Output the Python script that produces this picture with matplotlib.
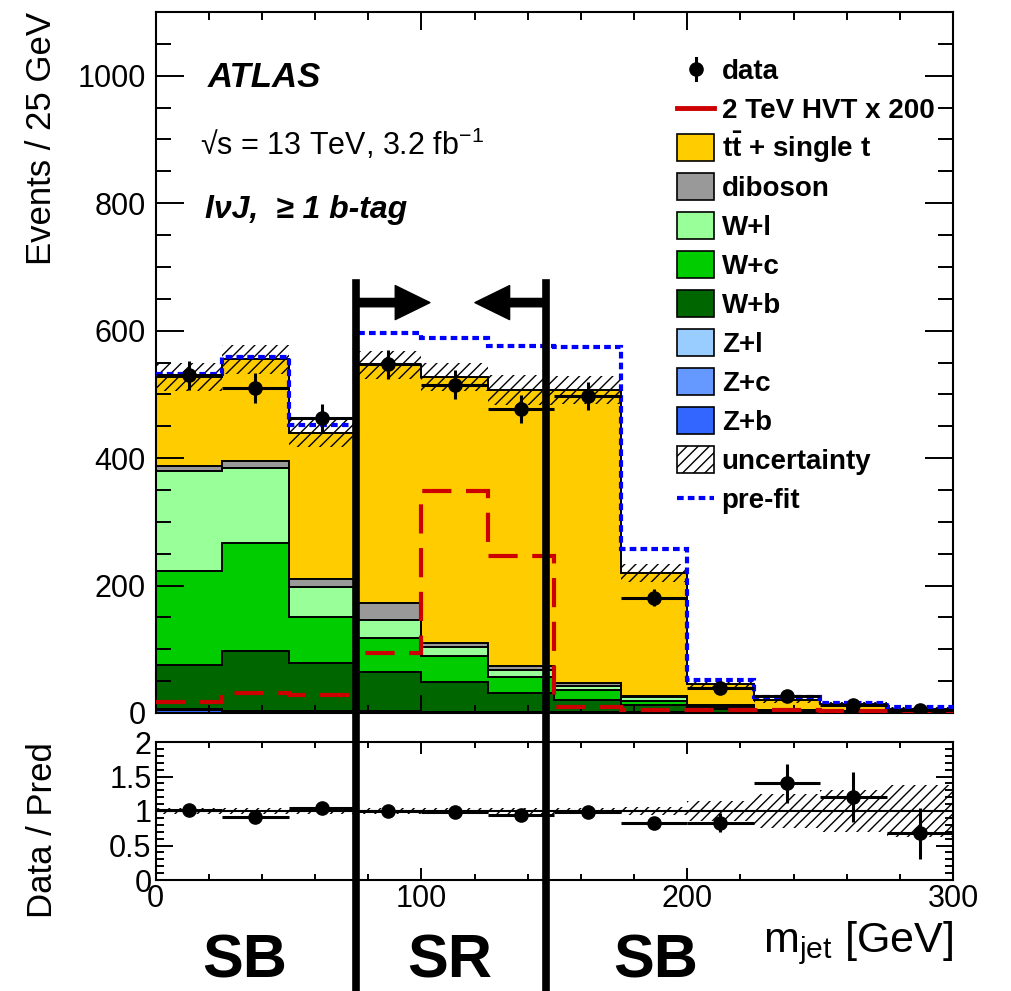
import matplotlib
matplotlib.use('Agg')
import matplotlib.pyplot as plt
import numpy as np
from matplotlib.patches import Rectangle, FancyArrowPatch
from matplotlib.lines import Line2D
import matplotlib.transforms as mtransforms
from matplotlib.ticker import MultipleLocator

plt.rcParams['font.family'] = ['Liberation Sans', 'DejaVu Sans']
plt.rcParams['mathtext.fontset'] = 'custom'
plt.rcParams['mathtext.rm'] = 'Liberation Sans'
plt.rcParams['mathtext.it'] = 'Liberation Sans:italic'
plt.rcParams['mathtext.bf'] = 'Liberation Sans:bold'
plt.rcParams['hatch.linewidth'] = 1.0

# ---------------- data ----------------
bin_edges = [0, 25, 50, 75, 100, 125, 150, 175, 200, 225, 250, 275, 300]

z_b = [5, 2, 2, 2, 1.5, 1, 0.6, 0.5, 0.3, 0.2, 0.1, 0.1]
z_c = [1, 0.5, 0.5, 0.5, 0.3, 0.3, 0.2, 0.2, 0.1, 0.1, 0.05, 0.0]
z_l = [1, 0.5, 0.5, 0.5, 0.2, 0.2, 0.2, 0.1, 0.1, 0.0, 0.05, 0.0]
w_b = [69, 95, 76, 61, 47, 29.5, 20, 11.7, 5, 2, 1, 0.5]
w_c = [147, 169, 71, 53, 40, 26, 15, 6.5, 3, 1.5, 1, 0.5]
w_l = [156, 117, 48, 29, 14, 11, 7, 5.5, 2.5, 1, 0.5, 0.3]
diboson = [9, 11, 13, 26, 7, 5, 4, 2.5, 1.5, 0.5, 0.5, 0.2]
ttbar = [139, 160, 228, 374, 418, 434, 460, 193, 33.5, 14.7, 10.8, 5.4]

bkg_unc = [21.5, 22.5, 22, 22, 22, 23, 22, 14.5, 6, 5, 3, 2]
prefit = [532, 558, 452, 596, 588, 576, 574, 257, 52, 25, 15, 9]
signal_hvt = [17, 32, 29, 94, 348, 246, 10, 5, 4, 4, 3, 3]

data = [530, 510, 463, 547, 515, 477, 497, 181, 39, 27, 13, 5]
data_err = [23, 23, 22, 23, 23, 22, 22, 13, 6, 5, 4, 2.5]

ratio = [1.01, 0.92, 1.05, 1.00, 0.98, 0.94, 0.98, 0.82, 0.83, 1.40, 1.20, 0.68]
ratio_err = [0.04, 0.04, 0.05, 0.04, 0.04, 0.04, 0.04, 0.06, 0.14, 0.28, 0.36, 0.37]
ratio_unc = [0.037, 0.037, 0.037, 0.037, 0.037, 0.037, 0.037, 0.06, 0.15, 0.24, 0.30, 0.38]

sr_edges = [75.5, 147]

stack_names = ['Z+b', 'Z+c', 'Z+l', 'W+b', 'W+c', 'W+l', 'diboson', r't$\mathbf{\bar{t}}$ + single t']
stack_vals = [z_b, z_c, z_l, w_b, w_c, w_l, diboson, ttbar]
stack_colors = ['#3366FF', '#6699FF', '#99CCFF', '#006600', '#00CC00', '#99FF99', '#999999', '#FFCC00']

# ---------------- figure ----------------
W, H = 1011, 991
fig = plt.figure(figsize=(W / 100, H / 100), dpi=100)

def fx(x):
    return x / W

def fy(y):
    return 1 - y / H

ax = fig.add_axes([fx(155.7), fy(713), fx(953) - fx(155.7), fy(12) - fy(713)])
rax = fig.add_axes([fx(155.7), fy(880), fx(953) - fx(155.7), fy(742) - fy(880)])

edges = np.array(bin_edges, dtype=float)
centers = 0.5 * (edges[:-1] + edges[1:])
halfw = 0.5 * (edges[1:] - edges[:-1])

base = np.zeros(len(centers))
for vals, col in zip(stack_vals, stack_colors):
    top = base + np.array(vals, dtype=float)
    ax.stairs(top, edges, baseline=base, fill=True, color=col, lw=0, zorder=1)
    ax.stairs(top, edges, baseline=None, color='black', lw=1.4, zorder=2)
    base = top
total = base

unc = np.array(bkg_unc)
ax.stairs(total + unc, edges, baseline=total - unc, fill=True, facecolor='none',
          edgecolor='black', hatch='///', lw=0, zorder=3)
ax.stairs(np.array(signal_hvt, float), edges, baseline=None, color='#CC0000', lw=3.0,
          linestyle=(0, (7, 3.5)), zorder=4)
ax.stairs(np.array(prefit, float), edges, baseline=None, color='#0000FF', lw=3.0,
          linestyle=(0, (1.6, 1.0)), zorder=5)
ax.errorbar(centers, data, xerr=halfw, yerr=data_err, fmt='o', color='black',
            ms=9.5, elinewidth=2.2, capsize=0, zorder=6)

ax.set_xlim(0, 300)
ax.set_ylim(0, 1100)
ax.xaxis.set_major_locator(MultipleLocator(100))
ax.xaxis.set_minor_locator(MultipleLocator(20))
ax.yaxis.set_major_locator(MultipleLocator(200))
ax.yaxis.set_minor_locator(MultipleLocator(50))
ax.tick_params(which='both', direction='in', top=True, right=True, width=1.4, labelsize=22)
ax.tick_params(axis='y', which='major', length=20, pad=7)
ax.tick_params(axis='y', which='minor', length=10.5)
ax.tick_params(axis='x', which='major', length=13)
ax.tick_params(axis='x', which='minor', length=6)
ax.tick_params(axis='x', labelbottom=False)
for s in ax.spines.values():
    s.set_linewidth(1.5)

# ratio panel
ru = np.array(ratio_unc)
rax.stairs(1 + ru, edges, baseline=1 - ru, fill=True, facecolor='none',
           edgecolor='black', hatch='///', lw=0, zorder=1)
rax.axhline(1.0, color='black', lw=1.5, zorder=2)
rax.errorbar(centers, ratio, xerr=halfw, yerr=ratio_err, fmt='o', color='black',
             ms=9.5, elinewidth=2.2, capsize=0, zorder=3)
rax.set_xlim(0, 300)
rax.set_ylim(0, 2)
rax.xaxis.set_major_locator(MultipleLocator(100))
rax.xaxis.set_minor_locator(MultipleLocator(20))
rax.yaxis.set_major_locator(MultipleLocator(0.5))
rax.yaxis.set_minor_locator(MultipleLocator(0.1))
rax.set_yticks([0, 0.5, 1, 1.5, 2])
rax.set_yticklabels(['0', '0.5', '1', '1.5', '2'])
rax.tick_params(which='both', direction='in', top=True, right=True, width=1.4, labelsize=22)
rax.tick_params(axis='y', which='major', length=12, pad=3)
rax.tick_params(axis='y', which='minor', length=6)
rax.tick_params(axis='x', which='major', length=8.5, pad=3)
rax.tick_params(axis='x', which='minor', length=4)
for s in rax.spines.values():
    s.set_linewidth(1.5)

# axis titles
fig.text(fx(42), fy(12), 'Events / 25 GeV', rotation=90, ha='center', va='top', fontsize=25)
fig.text(fx(43), fy(742), 'Data / Pred', rotation=90, ha='center', va='top', fontsize=25)
fig.text(fx(953), fy(952), r'm$_{\rm jet}$ [GeV]', ha='right', va='baseline', fontsize=31)

# labels
fig.text(fx(208), fy(87), 'ATLAS', fontsize=25, fontweight='bold', style='italic', va='baseline')
fig.text(fx(200), fy(155), r'√s = 13 TeV, 3.2 fb$^{-1}$', fontsize=22, va='baseline')
fig.text(fx(205), fy(218), 'lνJ,  ≥ 1 b-tag', fontsize=23, fontweight='bold', style='italic',
         va='baseline')

# SR / SB lines and arrows
blend = mtransforms.blended_transform_factory(ax.transData, fig.transFigure)
for xe in sr_edges:
    fig.add_artist(Line2D([xe, xe], [0, fy(283)], transform=blend, color='black', lw=5.5,
                          zorder=10))
arrow_y = 644
for x0, x1 in [(sr_edges[0], 103.2), (sr_edges[1], 120.1)]:
    arr = FancyArrowPatch((x0, arrow_y), (x1, arrow_y),
                          arrowstyle='simple,head_length=2.5,head_width=2.45,tail_width=0.6',
                          mutation_scale=10, color='black', shrinkA=0, shrinkB=0,
                          transform=ax.transData, zorder=10, clip_on=False)
    ax.add_patch(arr)

for xc, lab in [(245, 'SB'), (450, 'SR'), (656, 'SB')]:
    fig.text(fx(xc), fy(978), lab, ha='center', va='baseline', fontsize=44, fontweight='bold')

# legend (manual)
leg_rows = ['data', '2 TeV HVT x 200'] + stack_names[::-1] + ['uncertainty', 'pre-fit']
leg_cols = stack_colors[::-1]
y0, dy = 69.3, 39.0
bx0, bx1 = 677, 714
for i, lab in enumerate(leg_rows):
    yc = y0 + dy * i
    fig.text(fx(721.7), fy(yc + 10), lab, fontsize=20, fontweight='bold', va='baseline')
    if i == 0:
        fig.add_artist(Line2D([fx(696), fx(696)], [fy(yc - 11), fy(yc + 11)],
                              transform=fig.transFigure, color='black', lw=2.2))
        fig.add_artist(Line2D([fx(696)], [fy(yc)], transform=fig.transFigure, marker='o',
                              ms=9.5, color='black'))
    elif i == 1:
        fig.add_artist(Line2D([fx(bx0), fx(bx1)], [fy(yc), fy(yc)],
                              transform=fig.transFigure, color='#CC0000', lw=3.5))
    elif i == len(leg_rows) - 1:
        fig.add_artist(Line2D([fx(bx0), fx(bx1)], [fy(yc), fy(yc)],
                              transform=fig.transFigure, color='#0000FF', lw=3.0,
                              linestyle=(0, (1.6, 1.0))))
    elif i == len(leg_rows) - 2:
        fig.add_artist(Rectangle((fx(bx0), fy(yc + 13.5)), fx(bx1) - fx(bx0), fy(yc - 13.5) - fy(yc + 13.5),
                                 transform=fig.transFigure, facecolor='white', edgecolor='black',
                                 hatch='///', lw=1.2))
    else:
        fig.add_artist(Rectangle((fx(bx0), fy(yc + 13.5)), fx(bx1) - fx(bx0), fy(yc - 13.5) - fy(yc + 13.5),
                                 transform=fig.transFigure, facecolor=leg_cols[i - 2],
                                 edgecolor='black', lw=1.2))

fig.savefig('out.png', dpi=100)
